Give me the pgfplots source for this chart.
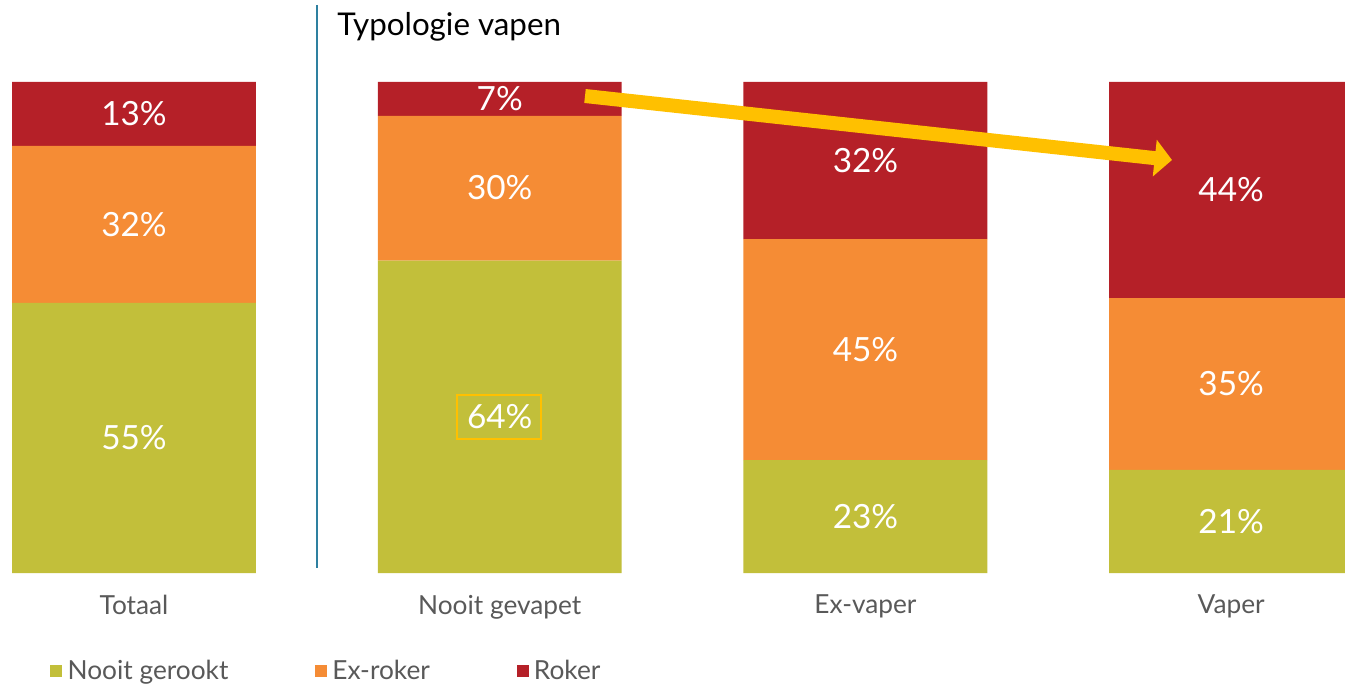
\documentclass[border=0pt]{standalone}
\usepackage{fontspec}
\setmainfont{Lato}
\usepackage{pgfplots}
\pgfplotsset{compat=1.18}
\usetikzlibrary{arrows.meta}
\definecolor{cgreen}{HTML}{C2BF3A}
\definecolor{corange}{HTML}{F58C35}
\definecolor{cred}{HTML}{B52028}
\definecolor{cyellow}{HTML}{FFC000}
\definecolor{cline}{HTML}{2E80A0}
\definecolor{cgray}{HTML}{595959}
\begin{document}
\begin{tikzpicture}
\pgfplotsset{
  common/.style={scale only axis, width=1008.75pt, height=368.25pt,
    xmin=-0.3664, xmax=3.3113, ymin=0, ymax=100, clip=false,
    at={(0,0)}, anchor=south west}
}
\begin{axis}[common, ybar stacked, bar width=0.667,
  axis line style={draw=none}, major tick length=0pt,
  ytick=\empty, xtick={0,1,2,3},
  xticklabels={Totaal,Nooit gevapet,Ex-vaper,Vaper},
  xticklabel style={font=\fontsize{19.7}{23}\selectfont, text=cgray, yshift=-13pt},
  legend columns=3,
  legend style={at={(0.0372,-0.1996)}, anchor=west, draw=none, inner sep=0pt,
    font=\fontsize{19.7}{23}\selectfont, text=cgray,
    /tikz/every even column/.append style={column sep=63pt},
    /tikz/every odd column/.append style={column sep=2pt}},
  legend image code/.code={\fill[#1] (0pt,-4.5pt) rectangle (9pt,4.5pt);},
]
\addplot[fill=cgreen, draw=none] coordinates {(0,55) (1,63.6) (2,23) (3,21)};
\addplot[fill=corange, draw=none] coordinates {(0,32) (1,29.5) (2,45) (3,35)};
\addplot[fill=cred, draw=none] coordinates {(0,13) (1,6.9) (2,32) (3,44)};
\legend{Nooit gerookt, Ex-roker, Roker}
\end{axis}
\begin{axis}[common, hide axis]
\addplot[draw=none, mark=none, nodes near coords={\pgfplotspointmeta\%},
  point meta=explicit symbolic, nodes near coords align=center,
  every node near coord/.append style={font=\fontsize{25}{29}\selectfont, text=white}]
  table[meta=m] {
x y m
0 27.5 55
0 71.0 32
0 93.5 13
1 31.8 64
1 78.4 30
1 96.6 7
2 11.5 23
2 45.5 45
2 84.0 32
3 10.5 21
3 38.5 35
3 78.0 44
};
\end{axis}
\begin{scope}[x=0.75pt,y=-0.75pt,shift={(0pt,429.75pt)}]
\draw[cline, line width=1.5pt] (317,5) -- (317,568);
\node[anchor=west, font=\fontsize{23.5}{27}\selectfont, inner sep=0pt] at (337,27) {Typologie vapen};
\draw[cyellow, line width=1.5pt] (457,395) rectangle (541,439);
\draw[cyellow, line width=10.5pt, -{Triangle[length=13pt,width=27pt]}] (585,96) -- (1172,160);
\pgfresetboundingbox
\path (0,0) rectangle (1345,686);
\end{scope}
\end{tikzpicture}
\end{document}
